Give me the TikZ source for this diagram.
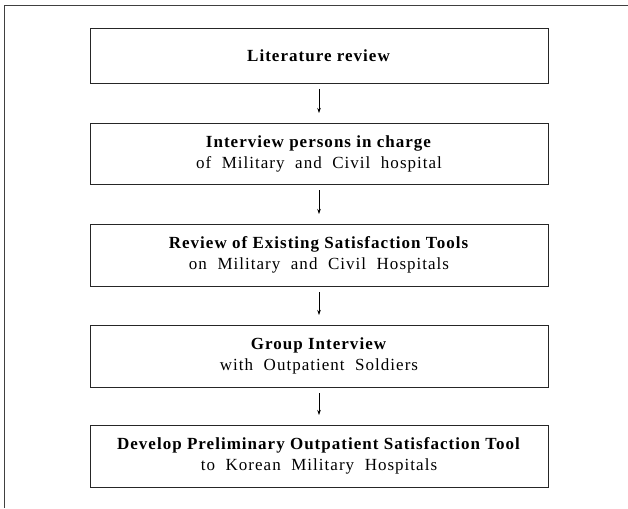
\documentclass[tikz,border=0pt]{standalone}
\usepackage{fontspec}
\setmainfont{Liberation Serif}[LetterSpace=6]
\newfontfamily\subfont{Liberation Serif}[LetterSpace=6, WordSpace=2]
\usetikzlibrary{arrows.meta}

\begin{document}
\begin{tikzpicture}[x=1pt, y=-1pt,
        every node/.style={outer sep=0pt, font=\fontsize{17}{21}\selectfont},
        stage/.style={draw=black!85, line width=0.9pt, minimum width=458pt, align=center, inner sep=0pt},
        flow/.style={-{Stealth[length=5pt,width=3.5pt]}, line width=0.6pt, shorten <=6pt, shorten >=10pt}]
        \useasboundingbox (0,0) rectangle (628,508);
        \draw[line width=1.6pt, color=black!75] (628,5.5) -- (4.5,5.5) -- (4.5,508);

        \node[stage, minimum height=55pt](lit) at (319, 55.5) {\textbf{Literature review}};
        \node[stage, minimum height=61pt](interview) at (319, 153.5) {\textbf{Interview persons in charge}\\{\subfont of Military and Civil hospital}};
        \node[stage, minimum height=62pt](review) at (319, 255) {\textbf{Review of Existing Satisfaction Tools}\\{\subfont on Military and Civil Hospitals}};
        \node[stage, minimum height=62pt](group) at (319, 356) {\textbf{Group Interview}\\{\subfont with Outpatient Soldiers}};
        \node[stage, minimum height=62pt](develop) at (319, 456) {\textbf{Develop Preliminary Outpatient Satisfaction Tool}\\{\subfont to Korean Military Hospitals}};

        \draw[flow] (lit) -- (interview);
        \draw[flow] (interview) -- (review);
        \draw[flow] (review) -- (group);
        \draw[flow] (group) -- (develop);
    \end{tikzpicture}
\end{document}
